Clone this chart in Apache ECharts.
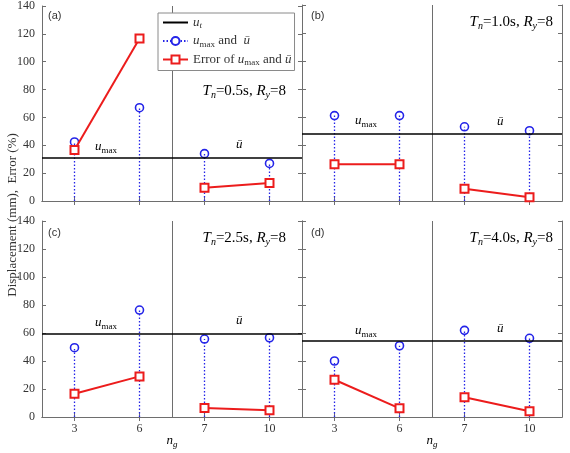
<!DOCTYPE html>
<html>
<head>
<meta charset="utf-8">
<script src="https://cdn.jsdelivr.net/npm/echarts@6/dist/echarts.min.js"></script>
<style>
  html, body { margin: 0; padding: 0; background: #fff; }
  #chart { width: 570px; height: 453px; }
</style>
</head>
<body>
<div id="chart"></div>
<script>
const categories = ['3', '6', '7', '10'];
const yMin = 0, yMax = 140, yStep = 20;
const panelTags = ['(a)', '(b)', '(c)', '(d)'];
const periods = ['0.5', '1.0', '2.5', '4.0'];
const ductility = '8';

// u_t for each panel
const utValues = [31.0, 48.3, 59.5, 54.3];

// u_max (n_g = 3, 6) and u-bar (n_g = 7, 10)
const dispA = [42.4, 67.0, 34.0, 27.0];
const dispB = [61.0, 61.0, 53.0, 50.2];
const dispC = [49.5, 76.4, 55.7, 56.6];
const dispD = [40.0, 50.9, 61.9, 56.2];

// error (%)
const errA = [36.7, 116.7, 9.5, 12.9];
const errB = [26.2, 26.2, 8.8, 2.6];
const errC = [16.6, 29.0, 6.4, 4.8];
const errD = [26.6, 6.2, 14.1, 4.1];

const dispAll = [dispA, dispB, dispC, dispD];
const errAll = [errA, errB, errC, errD];

const BLUE = '#2424e8';
const RED = '#ec1c1c';
const FRAME = '#6e6e6e';
const TXT = '#333333';
const SERIF = '"Liberation Serif", "Times New Roman", serif';

const rich = {
  i: { fontFamily: SERIF, fontStyle: 'italic', fontSize: 13, lineHeight: 16, color: TXT },
  s: { fontFamily: SERIF, fontSize: 9, lineHeight: 8, verticalAlign: 'bottom', color: TXT },
  si: { fontFamily: SERIF, fontStyle: 'italic', fontSize: 9, lineHeight: 8, verticalAlign: 'bottom', color: TXT },
  n: { fontFamily: SERIF, fontSize: 13, lineHeight: 16, color: TXT }
};
const bigRich = {
  i: { fontFamily: SERIF, fontStyle: 'italic', fontSize: 15, lineHeight: 18, color: TXT },
  si: { fontFamily: SERIF, fontStyle: 'italic', fontSize: 10, lineHeight: 9, verticalAlign: 'bottom', color: TXT },
  n: { fontFamily: SERIF, fontSize: 15, lineHeight: 18, color: TXT }
};

const grids = [
  { left: 42, top: 5, width: 260, height: 196 },
  { left: 302, top: 5, width: 260, height: 196 },
  { left: 42, top: 221, width: 260, height: 196 },
  { left: 302, top: 221, width: 260, height: 196 }
];

const xAxes = [], yAxes = [], series = [];

grids.forEach((g, k) => {
  const bottomRow = k >= 2, leftCol = k % 2 === 0;
  xAxes.push({
    type: 'category', gridIndex: k, data: categories, position: 'bottom',
    axisLine: { show: true, lineStyle: { color: FRAME, width: 1 } },
    axisTick: { show: true, inside: true, length: 4, alignWithLabel: true, lineStyle: { color: FRAME } },
    axisLabel: { show: bottomRow, color: TXT, fontFamily: SERIF, fontSize: 12, margin: 6 },
    splitLine: { show: false }
  });
  xAxes.push({
    type: 'category', gridIndex: k, data: categories, position: 'top',
    axisLine: { show: true, lineStyle: { color: FRAME, width: 1 } },
    axisTick: { show: true, inside: true, length: 4, alignWithLabel: true, lineStyle: { color: FRAME } },
    axisLabel: { show: false }, splitLine: { show: false }
  });
  // hidden axis that only carries the divider between the two n_g groups
  xAxes.push({
    type: 'value', gridIndex: k, min: 0, max: categories.length, interval: categories.length / 2,
    show: true, position: 'bottom', offset: 0,
    axisLine: { show: false }, axisTick: { show: false }, axisLabel: { show: false },
    splitLine: { show: true, lineStyle: { color: FRAME, width: 1 } }
  });
  yAxes.push({
    type: 'value', gridIndex: k, min: yMin, max: yMax, interval: yStep, position: 'left',
    axisLine: { show: true, lineStyle: { color: FRAME, width: 1 } },
    axisTick: { show: true, inside: true, length: 4, lineStyle: { color: FRAME } },
    axisLabel: { show: leftCol, color: TXT, fontFamily: SERIF, fontSize: 12, margin: 7 },
    splitLine: { show: false }
  });
  yAxes.push({
    type: 'value', gridIndex: k, min: yMin, max: yMax, interval: yStep, position: 'right',
    axisLine: { show: true, lineStyle: { color: FRAME, width: 1 } },
    axisTick: { show: true, inside: true, length: 4, lineStyle: { color: FRAME } },
    axisLabel: { show: false }, splitLine: { show: false }
  });

  const disp = dispAll[k], err = errAll[k];
  series.push({
    type: 'custom', name: 'stem', xAxisIndex: k * 3, yAxisIndex: k * 2, z: 2,
    data: disp.map((v, i) => [i, v]),
    encode: { x: 0, y: 1 },
    renderItem: (params, api) => {
      const top = api.coord([api.value(0), api.value(1)]);
      const base = api.coord([api.value(0), 0]);
      return {
        type: 'group', children: [
          { type: 'line', shape: { x1: base[0], y1: base[1], x2: top[0], y2: top[1] },
            style: { stroke: BLUE, lineWidth: 1.3, lineDash: [1.5, 2] } },
          { type: 'circle', shape: { cx: top[0], cy: top[1], r: 4 },
            style: { stroke: BLUE, fill: 'none', lineWidth: 1.6 } }
        ]
      };
    }
  });
  const errSeries = (part) => ({
    type: 'line', name: 'Error of u_max and ū', xAxisIndex: k * 3, yAxisIndex: k * 2, z: 3,
    data: err.map((v, i) => (part === 0 ? i < 2 : i >= 2) ? v : '-'),
    color: RED, lineStyle: { color: RED, width: 2 },
    symbol: 'emptyRect', symbolSize: 8, itemStyle: { color: RED, borderColor: RED, borderWidth: 1.5 },
    showAllSymbol: true
  });
  const s1 = errSeries(0);
  s1.markLine = {
    silent: true, symbol: 'none', label: { show: false }, animation: false,
    lineStyle: { color: '#000', width: 1.6, type: 'solid' },
    data: [{ yAxis: utValues[k] }]
  };
  series.push(s1, errSeries(1));
});

// dummy series for the legend
series.unshift(
  { type: 'line', name: 'u_t', xAxisIndex: 0, yAxisIndex: 0, data: [], symbol: 'none',
    color: '#000', lineStyle: { color: '#000', width: 1.6 } },
  { type: 'line', name: 'u_max and ū', xAxisIndex: 0, yAxisIndex: 0, data: [],
    symbol: 'emptyCircle', symbolSize: 8, color: BLUE,
    lineStyle: { color: BLUE, width: 1.3, type: [1.5, 2] }, itemStyle: { color: BLUE, borderWidth: 1.6 } },
  { type: 'line', name: 'Error of u_max and ū', xAxisIndex: 0, yAxisIndex: 0, data: [],
    symbol: 'emptyRect', symbolSize: 8, color: RED,
    lineStyle: { color: RED, width: 2 }, itemStyle: { color: RED, borderWidth: 1.5 } }
);

const legendText = {
  'u_t': '{i|u}{si|t}',
  'u_max and ū': '{i|u}{s|max}{n| and  }{i|ū}',
  'Error of u_max and ū': '{n|Error of }{i|u}{s|max}{n| and }{i|ū}'
};

const graphics = [];
const tagPos = [[48, 16], [311, 16], [48, 233], [311, 233]];
tagPos.forEach((p, k) => graphics.push({
  type: 'text', x: p[0], y: p[1],
  style: { text: panelTags[k], font: '11px "Liberation Sans", Arial, sans-serif', fill: TXT, verticalAlign: 'middle' }
}));
const tnPos = [[286, 91], [553, 22], [286, 238], [553, 238]];
tnPos.forEach((p, k) => graphics.push({
  type: 'text', x: p[0], y: p[1],
  style: { text: '{i|T}{si|n}{n|=' + periods[k] + 's, }{i|R}{si|y}{n|=' + ductility + '}', rich: bigRich,
    align: 'right', verticalAlign: 'middle' }
}));
const umaxPos = [[95, 147], [355, 121], [95, 323], [355, 331]];
const ubarPos = [[236, 145], [497, 122], [236, 321], [497, 329]];
umaxPos.forEach((p) => graphics.push({
  type: 'text', x: p[0], y: p[1],
  style: { text: '{i|u}{s|max}', rich: rich, verticalAlign: 'middle' }
}));
ubarPos.forEach((p) => graphics.push({
  type: 'text', x: p[0], y: p[1],
  style: { text: '{i|ū}', rich: rich, verticalAlign: 'middle' }
}));
[[172, 441], [432, 441]].forEach((p) => graphics.push({
  type: 'text', x: p[0], y: p[1],
  style: { text: '{i|n}{si|g}', rich: rich, align: 'center', verticalAlign: 'middle' }
}));
graphics.push({
  type: 'text', x: 13, y: 215, rotation: Math.PI / 2,
  style: { text: 'Displacement (mm),  Error (%)', font: '13px ' + SERIF, fill: TXT,
    align: 'center', verticalAlign: 'middle' }
});

const chart = echarts.init(document.getElementById('chart'));
chart.setOption({
  animation: false,
  grid: grids,
  xAxis: xAxes,
  yAxis: yAxes,
  legend: {
    data: [
      { name: 'u_t', itemStyle: { opacity: 0 } },
      'u_max and ū',
      'Error of u_max and ū'
    ],
    orient: 'vertical', left: 158, top: 13,
    padding: [3, 3, 3, 4], itemGap: 4, itemWidth: 25, itemHeight: 10,
    backgroundColor: '#fff', borderColor: '#8a8a8a', borderWidth: 1,
    selectedMode: false,
    formatter: (name) => legendText[name],
    textStyle: { rich: rich }
  },
  graphic: graphics,
  series: series
});
</script>
</body>
</html>
